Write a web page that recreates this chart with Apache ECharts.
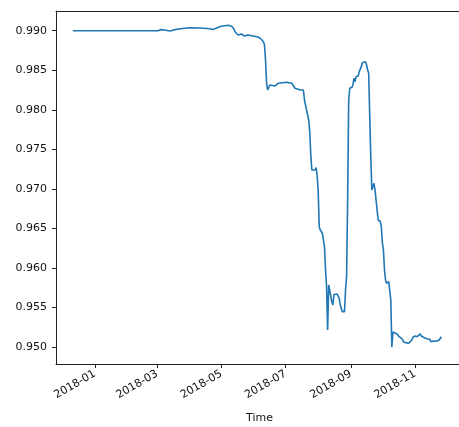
<!DOCTYPE html>
<html>
<head>
<meta charset="utf-8">
<script src="https://cdn.jsdelivr.net/npm/echarts@6/dist/echarts.min.js"></script>
<style>
  html, body { margin: 0; padding: 0; background: #fff; }
  #chart { width: 459px; height: 427px; }
</style>
</head>
<body>
<div id="chart"></div>
<script>
// Daily observations
const dates = [
  '2017-12-11', '2018-02-28', '2018-03-01', '2018-03-02', '2018-03-04', '2018-03-08', '2018-03-13',
  '2018-03-18', '2018-03-23', '2018-04-01', '2018-04-11', '2018-04-20', '2018-04-23', '2018-04-26',
  '2018-04-30', '2018-05-04', '2018-05-08', '2018-05-11', '2018-05-13', '2018-05-14', '2018-05-17',
  '2018-05-20', '2018-05-23', '2018-05-26', '2018-06-04', '2018-06-07', '2018-06-10', '2018-06-11',
  '2018-06-12', '2018-06-13', '2018-06-14', '2018-06-16', '2018-06-21', '2018-06-24', '2018-07-02',
  '2018-07-07', '2018-07-10', '2018-07-15', '2018-07-18', '2018-07-19', '2018-07-21', '2018-07-22',
  '2018-07-23', '2018-07-24', '2018-07-25', '2018-07-26', '2018-07-29', '2018-07-30', '2018-07-31',
  '2018-08-01', '2018-08-02', '2018-08-03', '2018-08-05', '2018-08-06', '2018-08-07', '2018-08-08',
  '2018-08-09', '2018-08-10', '2018-08-11', '2018-08-12', '2018-08-14', '2018-08-15', '2018-08-16',
  '2018-08-19', '2018-08-21', '2018-08-22', '2018-08-24', '2018-08-26', '2018-08-27', '2018-08-28',
  '2018-08-29', '2018-08-30', '2018-08-31', '2018-09-02', '2018-09-03', '2018-09-04', '2018-09-05',
  '2018-09-06', '2018-09-08', '2018-09-09', '2018-09-11', '2018-09-12', '2018-09-15', '2018-09-16',
  '2018-09-17', '2018-09-18', '2018-09-19', '2018-09-20', '2018-09-21', '2018-09-22', '2018-09-23',
  '2018-09-24', '2018-09-25', '2018-09-27', '2018-09-29', '2018-09-30', '2018-10-01', '2018-10-02',
  '2018-10-03', '2018-10-04', '2018-10-05', '2018-10-07', '2018-10-08', '2018-10-09', '2018-10-10',
  '2018-10-11', '2018-10-12', '2018-10-15', '2018-10-17', '2018-10-18', '2018-10-20', '2018-10-21',
  '2018-10-23', '2018-10-24', '2018-10-26', '2018-10-27', '2018-10-29', '2018-10-30', '2018-11-01',
  '2018-11-03', '2018-11-04', '2018-11-06', '2018-11-07', '2018-11-09', '2018-11-10', '2018-11-12',
  '2018-11-13', '2018-11-15', '2018-11-16', '2018-11-18', '2018-11-19', '2018-11-21', '2018-11-24',
  '2018-11-26'
];

const values = [
  0.99000, 0.99000, 0.99018, 0.99000, 0.99013, 0.99009, 0.98996,
  0.99013, 0.99025, 0.99038, 0.99034, 0.99025, 0.99015, 0.99030,
  0.99053, 0.99062, 0.99068, 0.99053, 0.99021, 0.98987, 0.98946,
  0.98958, 0.98933, 0.98946, 0.98924, 0.98904, 0.98861, 0.98819,
  0.98629, 0.98335, 0.98250, 0.98313, 0.98301, 0.98335, 0.98347,
  0.98335, 0.98272, 0.98250, 0.98250, 0.98124, 0.97997, 0.97985,
  0.97871, 0.97723, 0.97428, 0.97238, 0.97238, 0.97270, 0.97175,
  0.96986, 0.96522, 0.96480, 0.96438, 0.96417, 0.96269, 0.95974,
  0.95759, 0.95215, 0.95784, 0.95765, 0.95569, 0.95531, 0.95664,
  0.95670, 0.95616, 0.95531, 0.95447, 0.95447, 0.95721, 0.95889,
  0.96859, 0.98124, 0.98272, 0.98284, 0.98313, 0.98398, 0.98355,
  0.98418, 0.98427, 0.98482, 0.98545, 0.98595, 0.98608, 0.98566,
  0.98503, 0.98461, 0.97912, 0.97407, 0.96986, 0.97027, 0.97070,
  0.96986, 0.96859, 0.96606, 0.96587, 0.96522, 0.96312, 0.96227,
  0.95974, 0.95847, 0.95806, 0.95826, 0.95806, 0.95595, 0.94999,
  0.95190, 0.95173, 0.95165, 0.95130, 0.95110, 0.95098, 0.95067,
  0.95055, 0.95038, 0.95047, 0.95067, 0.95089, 0.95123, 0.95139,
  0.95130, 0.95146, 0.95165, 0.95139, 0.95123, 0.95114, 0.95105,
  0.95089, 0.95098, 0.95067, 0.95076, 0.95080, 0.95072, 0.95089,
  0.95130
];

// Tick marks
const xTickMonths = ['2018-01', '2018-03', '2018-05', '2018-07', '2018-09', '2018-11'];
const yTicks = [0.950, 0.955, 0.960, 0.965, 0.970, 0.975, 0.980, 0.985, 0.990];

function dayStamp(s) {
  const [y, m, d] = s.split('-').map(Number);
  return Date.UTC(y, m - 1, d || 1);
}
function fmtMonth(v) {
  const d = new Date(v);
  return d.getUTCFullYear() + '-' + String(d.getUTCMonth() + 1).padStart(2, '0');
}

const xTickStamps = xTickMonths.map(dayStamp);
const HOUR = 3600 * 1000;
const xMin = dayStamp('2017-11-24') + 23 * HOUR;
const xMax = dayStamp('2018-12-16') + 14 * HOUR;

const chart = echarts.init(document.getElementById('chart'), null, { renderer: 'canvas' });
const font = { fontFamily: 'DejaVu Sans', fontSize: 11, color: '#111' };
const spine = { show: true, onZero: false, lineStyle: { color: '#222', width: 1 } };

chart.setOption({
  animation: false,
  backgroundColor: '#fff',
  grid: { left: 56, right: -4, top: 11, bottom: 63, outerBoundsMode: 'none', containLabel: false },
  xAxis: [{
    type: 'value',
    min: xMin,
    max: xMax,
    name: 'Time',
    nameLocation: 'middle',
    nameGap: 49,
    nameTextStyle: font,
    splitLine: { show: false },
    axisLine: spine,
    axisTick: {
      show: true, length: 4, inside: false,
      lineStyle: { color: '#222', width: 1 },
      customValues: xTickStamps
    },
    axisLabel: Object.assign({
      rotate: 30,
      margin: 9,
      hideOverlap: false,
      showMinLabel: true,
      showMaxLabel: true,
      customValues: xTickStamps,
      formatter: fmtMonth
    }, font)
  }, {
    // top spine only
    type: 'value',
    position: 'top',
    min: xMin,
    max: xMax,
    axisLine: spine,
    axisTick: { show: false },
    axisLabel: { show: false },
    splitLine: { show: false }
  }],
  yAxis: {
    type: 'value',
    min: 0.94785,
    max: 0.99249,
    splitLine: { show: false },
    axisLine: spine,
    axisTick: {
      show: true, length: 4, inside: false,
      lineStyle: { color: '#222', width: 1 },
      customValues: yTicks
    },
    axisLabel: Object.assign({
      margin: 9,
      customValues: yTicks,
      formatter: v => v.toFixed(3)
    }, font)
  },
  series: [{
    type: 'line',
    xAxisIndex: 0,
    data: dates.map((d, i) => [dayStamp(d), values[i]]),
    showSymbol: false,
    symbol: 'none',
    lineStyle: { color: '#1f77b4', width: 1.6 },
    itemStyle: { color: '#1f77b4' }
  }]
});
</script>
</body>
</html>
